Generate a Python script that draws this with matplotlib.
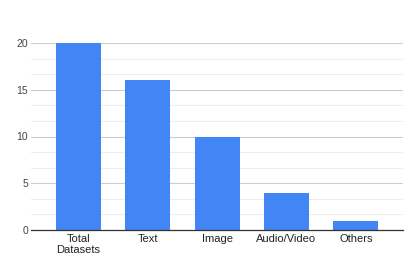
import numpy as np
import matplotlib.pyplot as plt

plt.rcParams['font.family'] = ['Liberation Sans', 'DejaVu Sans']

categories = ['Total\nDatasets', 'Text', 'Image', 'Audio/Video', 'Others']
counts = [20, 16, 10, 4, 1]
y_ticks = [0, 5, 10, 15, 20]

fig = plt.figure(figsize=(4.15, 2.57), dpi=100)
ax = fig.add_axes([31 / 415, 1 - 230 / 257, 372 / 415, 187 / 257])

x = np.arange(len(categories))
ax.bar(x, counts, width=0.65, color='#4285f4', zorder=3)

ax.set_xlim(-0.685, 4.68)
ax.set_ylim(0, 20)
ax.set_yticks(y_ticks)
ax.set_yticks(np.arange(0, 20.01, 5 / 3), minor=True)
ax.grid(axis='y', which='major', color='#cccccc', linewidth=0.8, zorder=0)
ax.grid(axis='y', which='minor', color='#ededed', linewidth=0.8, zorder=0)
ax.set_xticks(x)
ax.set_xticklabels(categories, fontsize=8, color='#222222', linespacing=1.05)
ax.tick_params(axis='y', labelsize=7.5, labelcolor='#444444', length=0, pad=2)
ax.tick_params(axis='x', length=0, pad=3)
ax.tick_params(which='minor', length=0)

for s in ['top', 'right', 'left']:
    ax.spines[s].set_visible(False)
ax.spines['bottom'].set_color('#333333')
ax.spines['bottom'].set_linewidth(0.9)
ax.spines['bottom'].set_zorder(4)

fig.savefig('out.png', dpi=100)
